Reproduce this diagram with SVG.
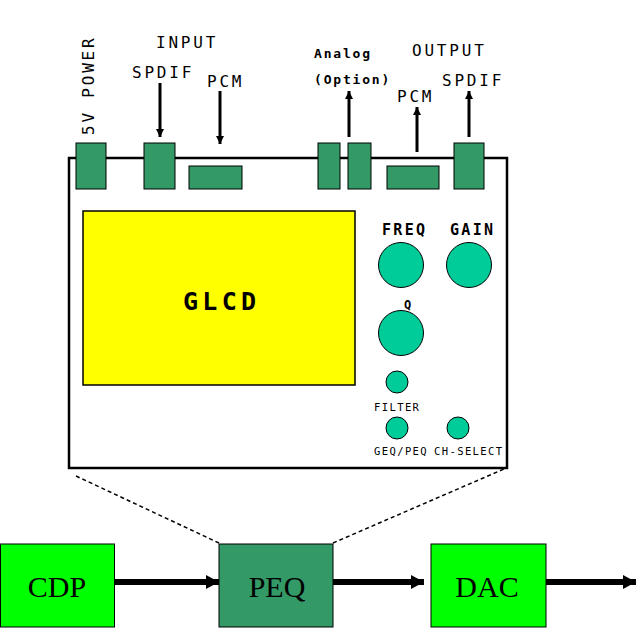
<svg xmlns="http://www.w3.org/2000/svg" width="639" height="629" viewBox="0 0 639 629">
<defs>
<style>
.lbl{font-family:"DejaVu Sans Mono","Liberation Mono",monospace;fill:#000}
.big{font-size:16px;letter-spacing:2.8px}
.sm{font-size:13px;font-weight:bold;letter-spacing:1.8px}
.knl{font-size:15px;font-weight:bold;letter-spacing:2.3px}
.tiny{font-size:10.5px;letter-spacing:1.4px}
.conn{fill:#339966;stroke:#000;stroke-width:1}
.knob{fill:#00CC99;stroke:#000;stroke-width:1}
.blk{stroke:#000;stroke-width:1}
.serif{font-family:"Liberation Serif","Times New Roman",serif;font-size:30px;fill:#000;text-anchor:middle}
.sig{stroke:#000;stroke-width:3;fill:none;marker-end:url(#ah)}
.flow{stroke:#000;stroke-width:6;fill:none;marker-end:url(#bh)}
.dash{stroke:#000;stroke-width:1.5;stroke-dasharray:4 3;fill:none}
</style>
<marker id="ah" markerUnits="userSpaceOnUse" markerWidth="8" markerHeight="8" refX="8" refY="4" orient="auto">
<path d="M0,0 L8,4 L0,8 z" fill="#000"/>
</marker>
<marker id="bh" markerUnits="userSpaceOnUse" markerWidth="13" markerHeight="14" refX="13" refY="7" orient="auto">
<path d="M0,0 L13,7 L0,14 z" fill="#000"/>
</marker>
</defs>
<rect width="639" height="629" fill="#fff"/>

<g id="panel">
<rect x="69" y="158" width="438" height="310" fill="#fff" stroke="#000" stroke-width="2.5"/>
</g>

<g id="connectors">
<line class="sig" x1="160" y1="83" x2="160" y2="137"/>
<line class="sig" x1="220" y1="91" x2="220" y2="144"/>
<line class="sig" x1="349" y1="137" x2="349" y2="91"/>
<line class="sig" x1="417" y1="152" x2="417" y2="107"/>
<line class="sig" x1="469" y1="137" x2="469" y2="91"/>
<line class="dash" x1="76" y1="476" x2="219" y2="543"/>
<line class="dash" x1="333" y1="543" x2="504" y2="469"/>
<line class="flow" x1="114" y1="582" x2="219" y2="582"/>
<line class="flow" x1="333" y1="582" x2="424" y2="582"/>
<line class="flow" x1="546" y1="582" x2="636" y2="582"/>
</g>

<g id="power-jack">
<rect class="conn" x="76" y="143" width="30" height="46"/>
<text class="lbl big" transform="translate(93.5,135) rotate(-90)">5V POWER</text>
</g>
<g id="input-label">
<text class="lbl big" x="156" y="48">INPUT</text>
</g>
<g id="spdif-in">
<rect class="conn" x="144" y="143" width="31" height="46"/>
<text class="lbl big" x="132" y="78">SPDIF</text>
</g>
<g id="pcm-in">
<rect class="conn" x="189" y="166" width="53" height="23"/>
<text class="lbl big" x="207" y="87">PCM</text>
</g>
<g id="analog-out">
<rect class="conn" x="318" y="143" width="22" height="46"/>
<rect class="conn" x="348" y="143" width="23" height="46"/>
<text class="lbl sm" x="314" y="58">Analog</text>
<text class="lbl sm" x="314" y="84">(Option)</text>
</g>
<g id="output-label">
<text class="lbl big" x="412" y="56">OUTPUT</text>
</g>
<g id="pcm-out">
<rect class="conn" x="387" y="166" width="52" height="23"/>
<text class="lbl big" x="397" y="102">PCM</text>
</g>
<g id="spdif-out">
<rect class="conn" x="454" y="143" width="30" height="46"/>
<text class="lbl big" x="442" y="86">SPDIF</text>
</g>

<g id="glcd">
<rect x="83" y="211" width="272" height="174" fill="#FFFF00" stroke="#000" stroke-width="1.5"/>
<text class="lbl" x="183" y="310" font-size="25" font-weight="bold" letter-spacing="4.3">GLCD</text>
</g>

<g id="freq">
<circle class="knob" cx="401" cy="265" r="22.5"/>
<text class="lbl knl" x="382" y="235">FREQ</text>
</g>
<g id="gain">
<circle class="knob" cx="469" cy="265" r="22.5"/>
<text class="lbl knl" x="450" y="235">GAIN</text>
</g>
<g id="q">
<circle class="knob" cx="401" cy="333" r="22.5"/>
<text class="lbl" x="404" y="309" font-size="12" font-weight="bold">Q</text>
</g>
<g id="filter">
<circle class="knob" cx="397" cy="382" r="11"/>
<text class="lbl tiny" x="374" y="411">FILTER</text>
</g>
<g id="geq-peq">
<circle class="knob" cx="397" cy="428" r="11"/>
<text class="lbl tiny" x="374" y="455">GEQ/PEQ</text>
</g>
<g id="ch-select">
<circle class="knob" cx="458" cy="428" r="11"/>
<text class="lbl tiny" x="434" y="455">CH-SELECT</text>
</g>

<g id="cdp">
<rect x="0.5" y="544" width="114" height="83" fill="#00FF00" stroke="#000" stroke-width="1"/>
<text class="serif" x="57" y="597">CDP</text>
</g>
<g id="peq">
<rect x="219" y="544" width="114" height="83" fill="#339966" stroke="#000" stroke-width="1"/>
<text class="serif" x="277" y="597">PEQ</text>
</g>
<g id="dac">
<rect x="431" y="544" width="115" height="83" fill="#00FF00" stroke="#000" stroke-width="1"/>
<text class="serif" x="487" y="597">DAC</text>
</g>
</svg>
